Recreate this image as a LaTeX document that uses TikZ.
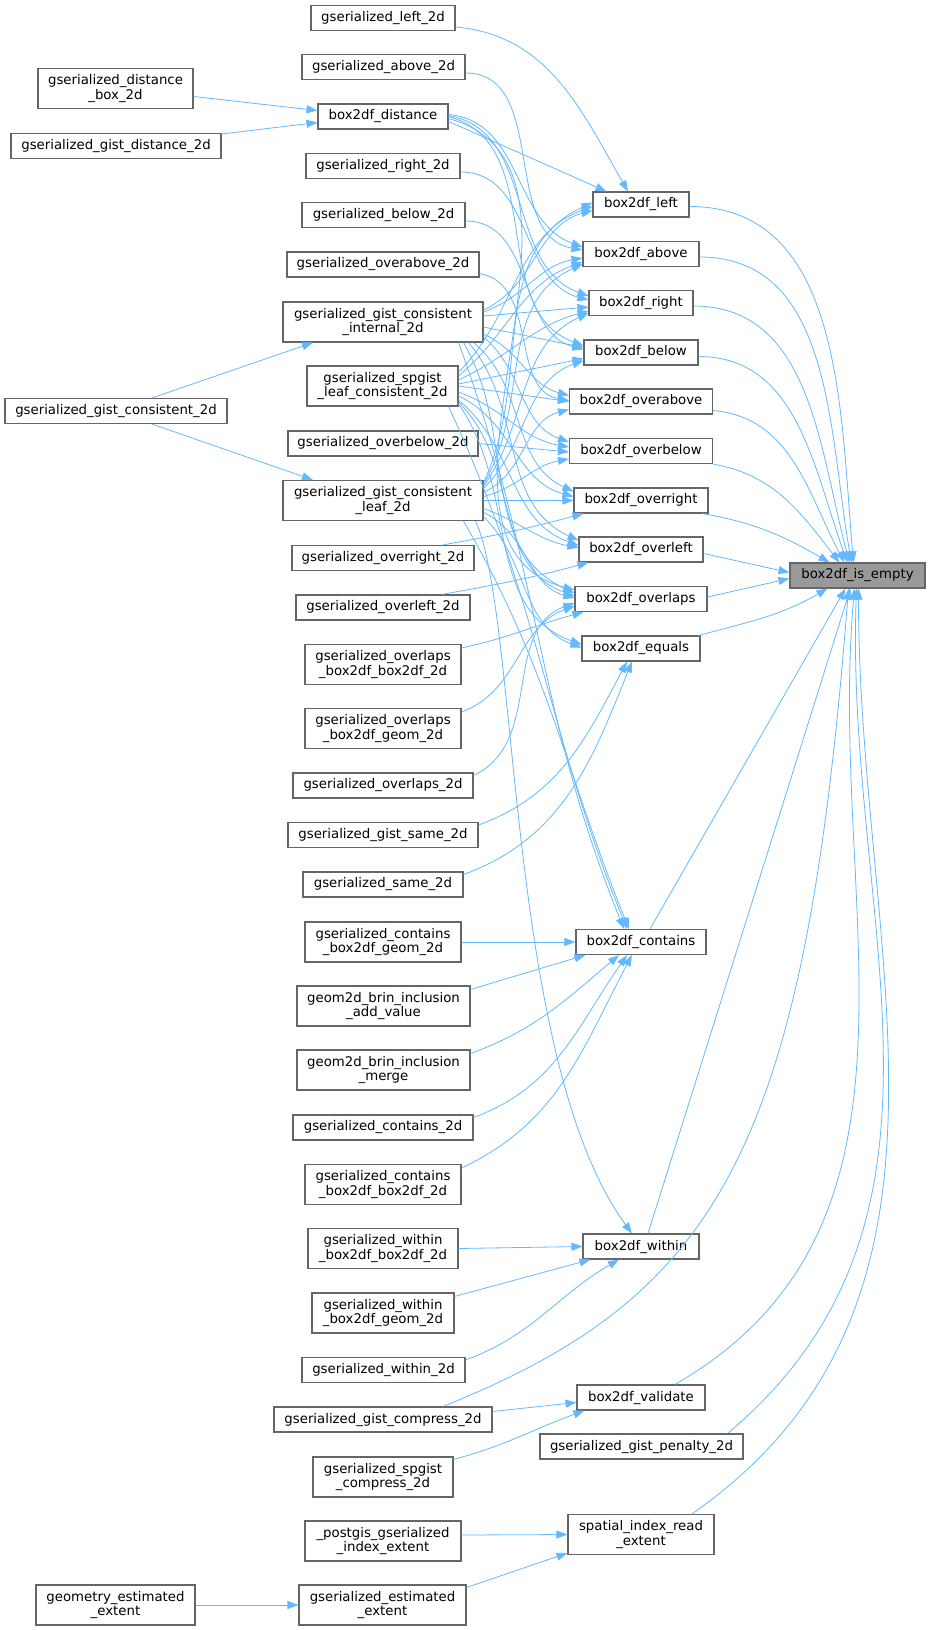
\documentclass[tikz,border=0pt]{standalone}
\usepackage{fontspec}
\setmainfont{DejaVu Sans}
\usetikzlibrary{arrows.meta}
\definecolor{edgeblue}{HTML}{63B8FF}
\definecolor{boxline}{HTML}{666666}
\definecolor{hitfill}{HTML}{999999}

\begin{document}
\begin{tikzpicture}[x=1pt, y=-1pt,
  fn/.style={draw=boxline, line width=1.1pt, fill=white, inner sep=0pt, minimum height=25pt, align=center, font=\fontsize{13.3}{14.7}\selectfont},
  fntwo/.style={fn, minimum height=40pt},
  call/.style={draw=edgeblue, line width=0.8pt, -{Triangle[length=11pt,width=8pt]}}]
\useasboundingbox (0,0) rectangle (931,1630);

\node[fn, minimum width=135pt, fill=hitfill] (isempty) at (857.5,575.5) {box2df\_is\_empty};

\node[fn, minimum width=96pt] (bleft) at (641,204.5) {box2df\_left};
\node[fn, minimum width=116pt] (babove) at (641,254) {box2df\_above};
\node[fn, minimum width=104pt] (bright) at (641,303) {box2df\_right};
\node[fn, minimum width=114pt] (bbelow) at (641,352.5) {box2df\_below};
\node[fn, minimum width=143pt] (boverabove) at (641,401.5) {box2df\_overabove};
\node[fn, minimum width=143pt] (boverbelow) at (641,451) {box2df\_overbelow};
\node[fn, minimum width=134pt] (boverright) at (641,500.5) {box2df\_overright};
\node[fn, minimum width=124pt] (boverleft) at (641,549.5) {box2df\_overleft};
\node[fn, minimum width=132pt] (boverlaps) at (641,599) {box2df\_overlaps};
\node[fn, minimum width=118pt] (bequals) at (641,648.5) {box2df\_equals};
\node[fn, minimum width=130pt] (bcontains) at (641,942) {box2df\_contains};
\node[fn, minimum width=116pt] (bwithin) at (641,1246.5) {box2df\_within};
\node[fn, minimum width=128pt] (bvalidate) at (641,1397.5) {box2df\_validate};
\node[fn, minimum width=203pt] (penalty) at (641.5,1446.5) {gserialized\_gist\_penalty\_2d};
\node[fntwo, minimum width=146pt] (readextent) at (641,1534.5) {spatial\_index\_read\\\_extent};

\node[fn, minimum width=144pt] (left2d) at (383,18) {gserialized\_left\_2d};
\node[fn, minimum width=163pt] (above2d) at (383.5,67) {gserialized\_above\_2d};
\node[fn, minimum width=130pt] (distance) at (383,116.5) {box2df\_distance};
\node[fn, minimum width=154pt] (right2d) at (383,166) {gserialized\_right\_2d};
\node[fn, minimum width=163pt] (below2d) at (383.5,215) {gserialized\_below\_2d};
\node[fn, minimum width=192pt] (overabove2d) at (383,264.5) {gserialized\_overabove\_2d};
\node[fntwo, minimum width=200pt] (internal) at (383,322) {gserialized\_gist\_consistent\\\_internal\_2d};
\node[fntwo, minimum width=151pt] (spleaf) at (382.5,386) {gserialized\_spgist\\\_leaf\_consistent\_2d};
\node[fn, minimum width=190pt] (overbelow2d) at (383,443.5) {gserialized\_overbelow\_2d};
\node[fntwo, minimum width=200pt] (leaf) at (383,500.5) {gserialized\_gist\_consistent\\\_leaf\_2d};
\node[fn, minimum width=182pt] (overright2d) at (383,558) {gserialized\_overright\_2d};
\node[fn, minimum width=174pt] (overleft2d) at (383,607.5) {gserialized\_overleft\_2d};
\node[fntwo, minimum width=156pt] (ovbb) at (383,664.5) {gserialized\_overlaps\\\_box2df\_box2df\_2d};
\node[fntwo, minimum width=156pt] (ovbg) at (383,728.5) {gserialized\_overlaps\\\_box2df\_geom\_2d};
\node[fn, minimum width=180pt] (overlaps2d) at (383,785.5) {gserialized\_overlaps\_2d};
\node[fn, minimum width=190pt] (gistsame) at (383,835) {gserialized\_gist\_same\_2d};
\node[fn, minimum width=160pt] (same2d) at (383,884.5) {gserialized\_same\_2d};
\node[fntwo, minimum width=156pt] (cobg) at (383,942) {gserialized\_contains\\\_box2df\_geom\_2d};
\node[fntwo, minimum width=173pt] (brinadd) at (383.5,1006) {geom2d\_brin\_inclusion\\\_add\_value};
\node[fntwo, minimum width=173pt] (brinmerge) at (383.5,1070) {geom2d\_brin\_inclusion\\\_merge};
\node[fn, minimum width=180pt] (contains2d) at (383,1127.5) {gserialized\_contains\_2d};
\node[fntwo, minimum width=156pt] (cobb) at (383,1184.5) {gserialized\_contains\\\_box2df\_box2df\_2d};
\node[fntwo, minimum width=150pt] (wibb) at (383,1248.5) {gserialized\_within\\\_box2df\_box2df\_2d};
\node[fntwo, minimum width=142pt] (wibg) at (383,1313) {gserialized\_within\\\_box2df\_geom\_2d};
\node[fn, minimum width=163pt] (within2d) at (383.5,1370) {gserialized\_within\_2d};
\node[fn, minimum width=218pt] (gistcompress) at (383,1419.5) {gserialized\_gist\_compress\_2d};
\node[fntwo, minimum width=140pt] (spcompress) at (383,1477) {gserialized\_spgist\\\_compress\_2d};
\node[fntwo, minimum width=156pt] (indexextent) at (383,1541) {\_postgis\_gserialized\\\_index\_extent};
\node[fntwo, minimum width=167pt] (estextent) at (382.5,1605) {gserialized\_estimated\\\_extent};

\node[fntwo, minimum width=155pt] (distbox) at (115.5,88.5) {gserialized\_distance\\\_box\_2d};
\node[fn, minimum width=210pt] (gistdist) at (116,146) {gserialized\_gist\_distance\_2d};
\node[fn, minimum width=222pt] (gistcons) at (116,411) {gserialized\_gist\_consistent\_2d};
\node[fntwo, minimum width=159pt] (geomest) at (115.5,1605) {geometry\_estimated\\\_extent};

\draw[call] ([yshift=-2]bleft.east) to[out=0,in=95] ([xshift=-4]isempty.north);
\draw[call] ([yshift=-3]babove.east) to[out=0,in=100] ([xshift=-6]isempty.north);
\draw[call] ([yshift=-3]bright.east) to[out=0,in=105] ([xshift=-8]isempty.north);
\draw[call] ([yshift=-4]bbelow.east) to[out=0,in=110] ([xshift=-10]isempty.north);
\draw[call] ([yshift=-9]boverabove.east) to[out=-5,in=118] ([xshift=-13]isempty.north);
\draw[call] (boverbelow.south east) to[out=-10,in=128] ([xshift=-18]isempty.north);
\draw[call] ([xshift=-6]boverright.south east) to[out=-10,in=150] ([xshift=-28]isempty.north);
\draw[call] ([yshift=-4]boverleft.east) -- ([yshift=3]isempty.west);
\draw[call] ([yshift=2]boverlaps.east) -- ([yshift=-3]isempty.west);
\draw[call] ([xshift=-2]bequals.north east) to[out=15,in=-150] ([xshift=-30]isempty.south);
\draw[call] ([xshift=9]bcontains.north) -- ([xshift=-12]isempty.south);
\draw[call] ([xshift=7]bwithin.north) -- ([xshift=-7]isempty.south);
\draw[call] ([xshift=34]bvalidate.north) to[out=30,in=-95] ([xshift=-3]isempty.south);
\draw[call] ([xshift=86]penalty.north) to[out=40,in=-92] ([xshift=-1]isempty.south);
\draw[call] ([xshift=51]readextent.north) to[out=35,in=-90] ([xshift=1]isempty.south);
\draw[call] ([xshift=60]gistcompress.north) .. controls (720,1295) and (805,1150) .. ([xshift=-9]isempty.south);

\draw[call] ([yshift=-8]distbox.east) -- ([yshift=6]distance.west);
\draw[call] ([yshift=12]gistdist.east) -- ([yshift=-6]distance.west);
\draw[call] ([xshift=36]gistcons.north) -- ([xshift=-70]internal.south);
\draw[call] ([xshift=36]gistcons.south) -- ([xshift=-70]leaf.north);
\draw[call] (geomest.east) -- (estextent.west);

\draw[call] ([yshift=-9]left2d.east) to[out=-5,in=120] ([xshift=-13]bleft.north);
\draw[call] ([yshift=-6]above2d.east) to[out=0,in=170] ([yshift=4]babove.west);
\draw[call] ([yshift=-6]right2d.east) to[out=0,in=165] ([yshift=3]bright.west);
\draw[call] ([yshift=-6]below2d.east) to[out=0,in=165] ([yshift=3]bbelow.west);
\draw[call] ([yshift=-9]overabove2d.east) to[out=-10,in=170] ([yshift=1]boverabove.west);
\draw[call] (overbelow2d.east) -- ([yshift=-1]boverbelow.west);
\draw[call] ([xshift=-32]overright2d.north east) to[out=10,in=195] ([xshift=10]boverright.south west);
\draw[call] ([xshift=-29]overleft2d.north east) to[out=10,in=195] ([xshift=10]boverleft.south west);
\draw[call] ([yshift=-4]ovbb.north east) to[out=12,in=195] ([xshift=9]boverlaps.south west);
\draw[call] ([yshift=-4]ovbg.north east) to[out=20,in=200] ([yshift=-7]boverlaps.west);
\draw[call] ([yshift=-3]overlaps2d.north east) to[out=25,in=200] ([yshift=-4]boverlaps.west);
\draw[call] ([yshift=-3]gistsame.north east) to[out=20,in=-118] ([xshift=-14]bequals.south);
\draw[call] ([yshift=-3]same2d.north east) to[out=20,in=-112] ([xshift=-9]bequals.south);
\draw[call] (cobg.east) -- (bcontains.west);
\draw[call] ([yshift=-4]brinadd.north east) -- ([xshift=10]bcontains.south west);
\draw[call] ([yshift=-4]brinmerge.north east) to[out=20,in=-140] ([xshift=-22]bcontains.south);
\draw[call] ([yshift=-3]contains2d.north east) to[out=20,in=-125] ([xshift=-14]bcontains.south);
\draw[call] ([yshift=-4]cobb.north east) to[out=25,in=-118] ([xshift=-9]bcontains.south);
\draw[call] (wibb.east) -- (bwithin.west);
\draw[call] ([yshift=-4]wibg.north east) -- ([xshift=8]bwithin.south west);
\draw[call] ([yshift=-3]within2d.north east) to[out=20,in=-150] ([xshift=-22]bwithin.south);
\draw[call] ([yshift=8]gistcompress.east) -- ([yshift=-5]bvalidate.west);
\draw[call] ([yshift=-3]spcompress.north east) to[out=15,in=200] ([xshift=8]bvalidate.south west);
\draw[call] ([yshift=6]indexextent.east) -- (readextent.west);
\draw[call] ([yshift=-3]estextent.north east) -- ([yshift=2]readextent.south west);

\draw[call] ([yshift=-5]distance.east) -- ([xshift=14]bleft.north west);
\draw[call] ([yshift=2]distance.east) to[out=-5,in=160] ([yshift=7]babove.west);
\draw[call] ([yshift=1]distance.east) to[out=-10,in=160] ([yshift=7]bright.west);
\draw[call] (distance.east) to[out=-15,in=160] ([yshift=7]bbelow.west);
\draw[call] ([yshift=-2]distance.east) to[out=-15,in=165] ([yshift=9]boverlaps.west);

\draw[call] ([yshift=12]internal.east) to[out=25,in=195] ([yshift=-6]bleft.west);
\draw[call] ([yshift=10]internal.east) to[out=20,in=190] ([yshift=-4]babove.west);
\draw[call] ([yshift=6]internal.east) -- ([yshift=-4]bright.west);
\draw[call] ([yshift=-5]internal.east) -- ([yshift=5]bbelow.west);
\draw[call] ([yshift=-12]internal.east) to[out=-25,in=165] ([yshift=6]boverabove.west);
\draw[call] ([yshift=-15]internal.east) to[out=-40,in=160] ([yshift=9]boverbelow.west);
\draw[call] ([xshift=-10]internal.south east) to[out=-40,in=155] ([yshift=9]boverright.west);
\draw[call] ([xshift=-15]internal.south east) to[out=-50,in=155] ([yshift=9]boverleft.west);
\draw[call] ([xshift=-20]internal.south east) to[out=-60,in=155] ([yshift=6]boverlaps.west);
\draw[call] ([xshift=-25]internal.south east) to[out=-70,in=112] ([xshift=-17]bcontains.north);

\draw[call] ([yshift=14]spleaf.east) to[out=45,in=200] ([yshift=-2]bleft.west);
\draw[call] ([yshift=10]spleaf.east) to[out=40,in=200] ([yshift=-8]babove.west);
\draw[call] ([yshift=6]spleaf.east) to[out=25,in=195] ([yshift=-8]bright.west);
\draw[call] ([yshift=2]spleaf.east) -- ([yshift=-6]bbelow.west);
\draw[call] (spleaf.east) -- (boverabove.west);
\draw[call] ([yshift=-6]spleaf.east) to[out=-20,in=170] ([yshift=4]boverbelow.west);
\draw[call] ([yshift=-10]spleaf.east) to[out=-25,in=165] ([yshift=4]boverright.west);
\draw[call] ([yshift=-14]spleaf.east) to[out=-40,in=160] ([yshift=4]boverleft.west);
\draw[call] ([yshift=-16]spleaf.east) to[out=-45,in=160] ([yshift=3]boverlaps.west);
\draw[call] ([yshift=-18]spleaf.east) to[out=-55,in=160] ([yshift=4]bequals.west);
\draw[call] ([xshift=-10]spleaf.south east) to[out=-65,in=112] ([xshift=-14]bcontains.north);

\draw[call] ([yshift=18]leaf.east) to[out=65,in=205] ([yshift=2]bleft.west);
\draw[call] ([yshift=16]leaf.east) to[out=60,in=205] ([yshift=-10]babove.west);
\draw[call] ([yshift=14]leaf.east) to[out=55,in=205] ([yshift=-10]bright.west);
\draw[call] ([yshift=12]leaf.east) to[out=45,in=200] ([yshift=-8]bbelow.west);
\draw[call] ([yshift=8]leaf.east) to[out=25,in=195] ([yshift=-8]boverabove.west);
\draw[call] ([yshift=4]leaf.east) to[out=15,in=190] ([yshift=-8]boverbelow.west);
\draw[call] (leaf.east) -- (boverright.west);
\draw[call] ([yshift=-8]leaf.east) to[out=-20,in=170] ([yshift=2]boverleft.west);
\draw[call] ([yshift=-12]leaf.east) to[out=-25,in=165] ([yshift=1]boverlaps.west);
\draw[call] ([yshift=-16]leaf.east) to[out=-45,in=160] ([yshift=1]bequals.west);
\draw[call] ([xshift=-20]leaf.south east) to[out=-60,in=112] ([xshift=-12]bcontains.north);
\draw[call] ([xshift=-8]leaf.south east) .. controls (520,620) and (505,1060) .. ([xshift=-9]bwithin.north);
\end{tikzpicture}
\end{document}
